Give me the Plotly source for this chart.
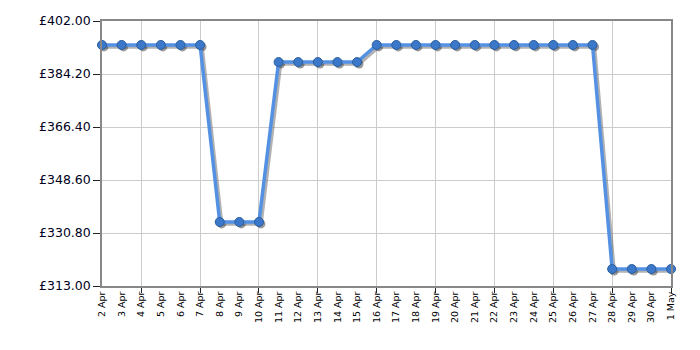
import plotly.graph_objects as go
import pandas as pd

# ---- data ----
dates = pd.date_range("2024-04-02", "2024-05-01", freq="D")
prices = [393.95] * 6 + [334.5] * 3 + [388.2] * 5 + [393.95] * 12 + [318.7] * 4
tick_labels = [f"{d.day} {d.strftime('%b')}" for d in dates]
y_ticks = [313.00, 330.80, 348.60, 366.40, 384.20, 402.00]
y_tick_labels = [f"£{v:.2f}" for v in y_ticks]
grid_dates = dates[2::3]

# shadow offset (style): ~2 px right / down
shadow_dx = pd.Timedelta(hours=2.4)
shadow_dy = 0.65

fig = go.Figure()
fig.add_trace(go.Scatter(
    x=dates + shadow_dx, y=[p - shadow_dy for p in prices],
    mode="lines+markers",
    line=dict(color="rgba(100,100,100,0.5)", width=3.5),
    marker=dict(size=9, color="rgba(70,70,70,0.55)", line=dict(width=0)),
    cliponaxis=False, hoverinfo="skip", showlegend=False,
))
fig.add_trace(go.Scatter(
    x=dates, y=prices,
    mode="lines+markers",
    line=dict(color="#5591e3", width=3.5),
    marker=dict(size=9, color="#3b78c9", line=dict(color="#2b5e9e", width=1)),
    cliponaxis=False, showlegend=False,
))

fig.update_layout(
    width=700, height=350,
    margin=dict(l=102, r=29, t=21, b=64),
    paper_bgcolor="white", plot_bgcolor="white",
    font=dict(family="DejaVu Sans, Verdana, sans-serif", color="black"),
)
fig.update_xaxes(
    type="date",
    range=[dates[0], dates[-1]],
    tickmode="array", tickvals=dates, ticktext=tick_labels,
    tickangle=-90, tickfont=dict(size=9.5, color="black"),
    ticks="", showgrid=False,
    minor=dict(tickmode="array", tickvals=grid_dates, ticks="outside",
               ticklen=5, tickcolor="#222", showgrid=True,
               gridcolor="#cccccc", gridwidth=1),
    showline=True, linecolor="#888888", linewidth=1.5, mirror=True,
    zeroline=False,
)
fig.update_yaxes(
    range=[313, 402],
    tickmode="array", tickvals=y_ticks, ticktext=y_tick_labels,
    tickfont=dict(size=12.5, color="#000022"),
    ticks="outside", ticklen=7, tickcolor="#222",
    showgrid=True, gridcolor="#cccccc", gridwidth=1,
    showline=True, linecolor="#888888", linewidth=1.5, mirror=True,
    zeroline=False,
)

fig.write_html("out.html")
